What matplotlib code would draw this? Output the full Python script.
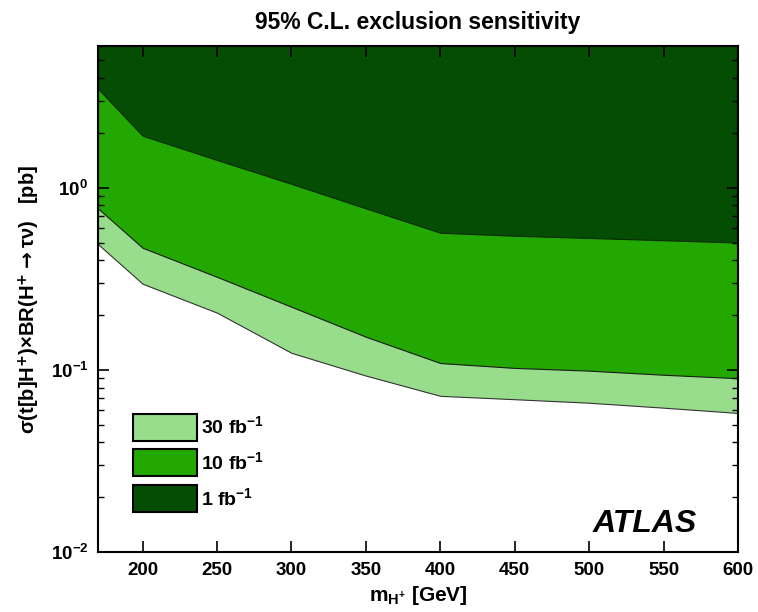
import numpy as np
import matplotlib
matplotlib.use("Agg")
import matplotlib.pyplot as plt
from matplotlib.patches import Patch
from matplotlib.ticker import FixedLocator, LogLocator, NullFormatter

plt.rcParams['font.family'] = ['Liberation Sans', 'DejaVu Sans']
plt.rcParams['font.weight'] = 'bold'
plt.rcParams['axes.labelweight'] = 'bold'
plt.rcParams['axes.titleweight'] = 'bold'
plt.rcParams['mathtext.fontset'] = 'custom'
plt.rcParams['mathtext.rm'] = 'Liberation Sans:bold'
plt.rcParams['mathtext.bf'] = 'Liberation Sans:bold'
plt.rcParams['mathtext.it'] = 'Liberation Sans:bold:italic'
plt.rcParams['mathtext.default'] = 'bf'

# masse H+ (GeV) dan batas sensitivitas (pb)
mass = [170, 200, 250, 300, 350, 400, 450, 500, 550, 600]
lim_1fb = [3.5, 1.93, 1.42, 1.05, 0.77, 0.566, 0.545, 0.53, 0.515, 0.50]
lim_10fb = [0.77, 0.468, 0.324, 0.222, 0.152, 0.109, 0.1025, 0.099, 0.094, 0.090]
lim_30fb = [0.49, 0.297, 0.206, 0.124, 0.093, 0.072, 0.069, 0.066, 0.062, 0.058]
labels = [r'30 fb$^{-1}$', r'10 fb$^{-1}$', r'1 fb$^{-1}$']

c_light = '#98dd8c'
c_mid = '#22a800'
c_dark = '#054d02'

fig = plt.figure(figsize=(7.58, 6.12), dpi=100)
ax = fig.add_axes([98/758, 1-552/612, 640/758, 506/612])

top = 100
ax.fill_between(mass, lim_30fb, top, facecolor=c_light, edgecolor='#333333', linewidth=0.8)
ax.fill_between(mass, lim_10fb, top, facecolor=c_mid, edgecolor='#1a1a1a', linewidth=0.8)
ax.fill_between(mass, lim_1fb, top, facecolor=c_dark, edgecolor='#0a2a00', linewidth=0.8)

ax.set_yscale('log')
ax.set_xlim(170, 600)
ax.set_ylim(0.01, 6)

ax.xaxis.set_major_locator(FixedLocator([200, 250, 300, 350, 400, 450, 500, 550, 600]))
ax.yaxis.set_minor_locator(LogLocator(base=10, subs=np.arange(2, 10)))
ax.yaxis.set_minor_formatter(NullFormatter())
ax.tick_params(which='both', direction='in', top=True, right=True, labelsize=13.5)
ax.tick_params(which='major', length=8, width=1.2, pad=7)
ax.tick_params(which='minor', length=4, width=1.0)
ax.tick_params(axis='x', which='minor', bottom=False, top=False)
for s in ax.spines.values():
    s.set_linewidth(1.5)

ax.set_title('95% C.L. exclusion sensitivity', fontsize=16.5, pad=12)
ax.set_xlabel(r'm$_{H^{+}}$ [GeV]', fontsize=15, labelpad=4)
ax.set_ylabel(r'σ(t[b]H$^{+}$)×BR(H$^{+}\rightarrow$τν)   [pb]', fontsize=14.5, labelpad=6,
              math_fontfamily='dejavusans')

handles = [Patch(facecolor=c, edgecolor='black', linewidth=1.5) for c in (c_light, c_mid, c_dark)]
ax.legend(handles, labels, loc='upper left', bbox_to_anchor=(0.055, 0.273), frameon=False,
          fontsize=14, handlelength=3.3, handleheight=1.75, labelspacing=0.45,
          handletextpad=0.2, borderpad=0, borderaxespad=0)

ax.text(0.936, 0.04, 'ATLAS', transform=ax.transAxes, ha='right', va='baseline',
        fontsize=23, fontweight='bold', fontstyle='italic')

fig.savefig('out.png', dpi=100)
